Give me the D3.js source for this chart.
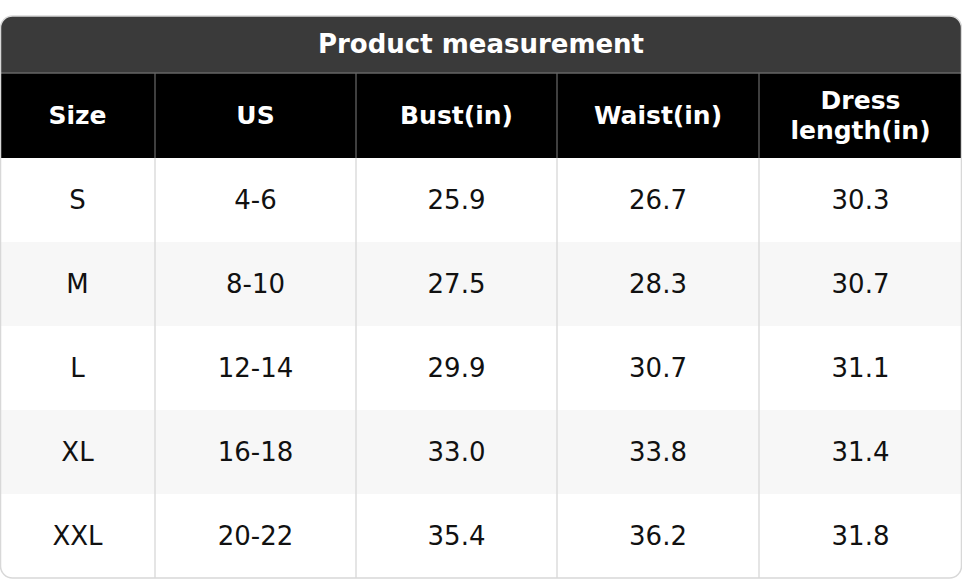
<!DOCTYPE html>
<html><head><meta charset="utf-8">
<script src="https://cdn.jsdelivr.net/npm/d3@7"></script>
<style>body{margin:0;background:#fff}</style></head>
<body><svg id="c" width="962" height="580"></svg>
<script>
const title = "Product measurement";
const headers = [["Size"],["US"],["Bust(in)"],["Waist(in)"],["Dress","length(in)"]];
const sizes = ["S","M","L","XL","XXL"];
const us = ["4-6","8-10","12-14","16-18","20-22"];
const bust = ["25.9","27.5","29.9","33.0","35.4"];
const waist = ["26.7","28.3","30.7","33.8","36.2"];
const dressLength = ["30.3","30.7","31.1","31.4","31.8"];
const colEdges = [0,155,356,557,759,962];

const svg = d3.select("#c");
const font = "DejaVu Sans";
const W = 962, titleH = 73, headH = 85, rowH = 84;
const x = i => colEdges[i];
const rows = sizes.map((s,i)=>[s,us[i],bust[i],waist[i],dressLength[i]]);
const y = d3.scaleBand().domain(d3.range(rows.length)).range([titleH+headH, titleH+headH+rowH*rows.length]);

const clip = svg.append("defs").append("clipPath").attr("id","r");
clip.append("rect").attr("x",0.5).attr("y",16).attr("width",W-1).attr("height",562).attr("rx",12);
const g = svg.append("g").attr("clip-path","url(#r)");
g.append("rect").attr("x",0).attr("y",0).attr("width",W).attr("height",titleH).attr("fill","#3a3a3a");
g.append("rect").attr("x",0).attr("y",titleH).attr("width",W).attr("height",headH).attr("fill","#000");
g.selectAll("rect.row").data(rows).join("rect").attr("x",0).attr("y",(d,i)=>y(i)).attr("width",W).attr("height",rowH)
  .attr("fill",(d,i)=>i%2?"#f7f7f7":"#fff");
// grid lines
g.selectAll("line.v").data(colEdges.slice(1,-1)).join("line")
  .attr("x1",d=>d).attr("x2",d=>d).attr("y1",y(0)).attr("y2",580).attr("stroke","#dcdcdc").attr("stroke-width",1.5);
g.selectAll("line.vh").data(colEdges.slice(1,-1)).join("line")
  .attr("x1",d=>d).attr("x2",d=>d).attr("y1",titleH).attr("y2",y(0)).attr("stroke","#555").attr("stroke-width",1.5);
g.append("line").attr("x1",0).attr("x2",W).attr("y1",titleH).attr("y2",titleH).attr("stroke","#666").attr("stroke-width",1.5);
svg.append("rect").attr("x",0.5).attr("y",16).attr("width",W-1).attr("height",562).attr("rx",12)
  .attr("fill","none").attr("stroke","#d8d8d8").attr("stroke-width",1.5);

svg.append("text").attr("x",W/2).attr("y",44).attr("text-anchor","middle").attr("dominant-baseline","central")
  .attr("font-family",font).attr("font-weight","bold").attr("font-size",26).attr("fill","#fff").text(title);

headers.forEach((h,i)=>{
  const cx=(x(i)+x(i+1))/2, cy=titleH+headH/2;
  const t=svg.append("text").attr("x",cx).attr("text-anchor","middle").attr("font-family",font)
    .attr("font-weight","bold").attr("font-size",25).attr("fill","#fff");
  h.forEach((line,j)=>t.append("tspan").attr("x",cx).attr("y",cy+(j-(h.length-1)/2)*30).attr("dominant-baseline","central").text(line));
});
rows.forEach((r,ri)=>r.forEach((v,ci)=>{
  svg.append("text").attr("x",(x(ci)+x(ci+1))/2).attr("y",y(ri)+rowH/2).attr("text-anchor","middle")
    .attr("dominant-baseline","central").attr("font-family",font).attr("font-size",26).attr("fill","#111").text(v);
}));
</script></body></html>
